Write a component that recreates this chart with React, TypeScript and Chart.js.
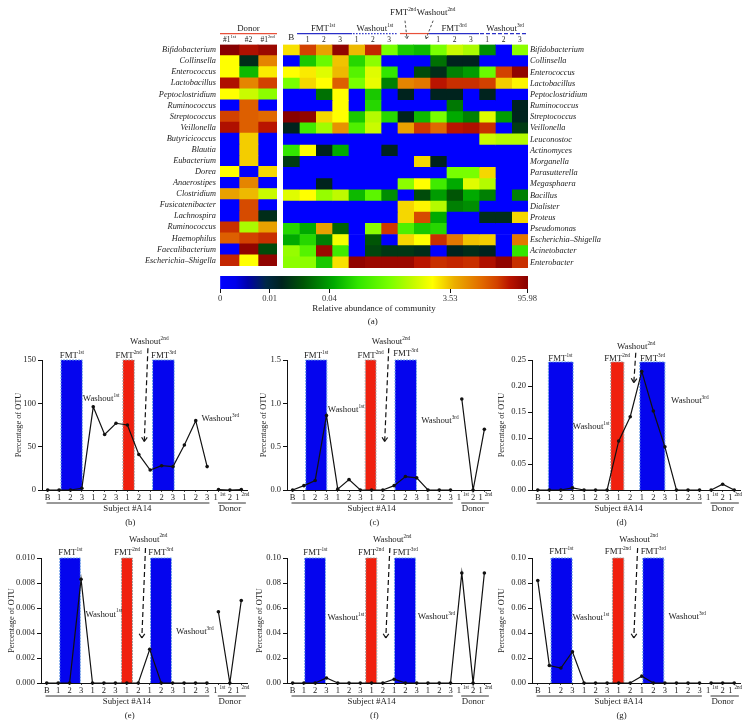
import React, { useEffect, useRef } from "react";
import { Chart, registerables } from "chart.js";

Chart.register(...registerables);

const SERIF = '"Liberation Serif", serif';

// ---------- heat map data (levels: position on the colour ramp, 0-100) ----------
const donorRowLabels = ["Bifidobacterium","Collinsella","Enterococcus","Lactobacillus","Peptoclostridium","Ruminococcus","Streptococcus","Veillonella","Butyricicoccus","Blautia","Eubacterium","Dorea","Anaerostipes","Clostridium","Fusicatenibacter","Lachnospira","Ruminococcus","Haemophilus","Faecalibacterium","Escherichia–Shigella"];
const subjectRowLabels = ["Bifidobacterium","Collinsella","Enterococcus","Lactobacillus","Peptoclostridium","Ruminococcus","Streptococcus","Veillonella","Leuconostoc","Actinomyces","Morganella","Parasutterella","Megasphaera","Bacillus","Dialister","Proteus","Pseudomonas","Escherichia–Shigella","Acinetobacter","Enterobacter"];
const donorColumns: [string, string][] = [["#1", "1st"], ["#2", ""], ["#1", "2nd"]];
const subjectColumns = ["B","1","2","3","1","2","3","","","1","2","3","1","2","3"];

const donorLevels = [
  [100,96,98],[73,22,84],[73,44,75],[96,84,90],[73,68,62],[0,87,0],[90,87,86],[96,87,95],[0,78,0],[0,78,0],
  [0,78,0],[73,0,77],[0,84,0],[82,80,68],[0,89,0],[0,89,22],[92,65,82],[87,90,92],[0,99,28],[93,73,99],
];
const subjectLevels = [
  [76,90,82,99,80,93,60,46,44,60,68,65,38,0,62],
  [0,46,58,79,48,62,0,0,0,34,20,20,0,0,0],
  [73,75,70,80,55,70,50,0,28,22,36,40,58,90,99],
  [60,77,73,87,60,71,36,84,85,95,92,92,90,78,74],
  [0,0,34,73,0,46,0,20,0,20,20,0,20,0,0],
  [0,0,0,73,0,48,0,0,0,0,35,0,0,0,20],
  [100,99,77,73,46,66,48,20,44,60,42,36,70,40,20],
  [20,52,64,83,54,68,0,82,91,86,95,96,92,0,25],
  [0,0,0,0,0,0,0,0,0,0,0,0,68,66,66],
  [50,73,20,42,0,0,20,0,0,0,0,0,0,0,0],
  [25,0,0,0,0,0,0,0,77,20,0,0,0,0,0],
  [0,0,0,0,0,0,0,0,0,0,60,60,77,0,0],
  [0,0,20,0,0,0,0,62,73,52,42,70,66,0,0],
  [70,73,63,67,44,56,38,0,28,40,30,42,36,0,36],
  [0,0,0,0,0,0,0,77,74,66,36,38,0,0,0],
  [0,0,0,0,0,0,0,77,89,42,0,0,22,22,77],
  [48,42,82,32,0,62,91,54,46,48,0,0,0,0,0],
  [42,48,36,72,0,30,0,77,73,92,85,79,78,0,85],
  [63,55,98,52,0,27,24,24,22,0,20,22,20,0,50],
  [62,62,46,76,99,98,98,98,95,92,93,92,96,99,92],
];

// ---------- colour ramp ----------
const rampLevels = [0,5,10,15,20,30,42,50,60,67,73,77,81,86,90,95,100];
const rampBarPos = [0,5,9,15,20,27,37,45,55,62,69,72.5,76,85,90,94,100];
const rampColors = [[0,0,255],[0,0,235],[0,0,170],[0,40,70],[0,35,30],[0,85,5],[0,170,0],[50,230,0],[120,255,0],[190,250,0],[255,255,0],[245,215,0],[235,175,0],[225,105,0],[210,65,0],[185,20,0],[135,0,0]];
const colorbarTickLevels = [0,16.1,35.5,74.7,99.8];
const colorbarTickLabels = ["0","0.01","0.04","3.53","95.98"];

function levelColor(v: number): string {
  let i = 0;
  while (i < rampLevels.length - 2 && v > rampLevels[i + 1]) i++;
  const t = (v - rampLevels[i]) / (rampLevels[i + 1] - rampLevels[i]);
  const c = rampColors[i].map((a, k) => Math.round(a + (rampColors[i + 1][k] - a) * t));
  return `rgb(${c[0]},${c[1]},${c[2]})`;
}

// ---------- line panels data ----------
const timeTickLabels = ["B","1","2","3","1","2","3","1","2","1","2","3","1","2","3","","2",""];
const otuB = [0,0,0,2,96,64,77,75,41,23,28,27,52,80,27,0.5,0,0.5];
const otuC = [0,0.05,0.11,0.86,0.01,0.12,0,0,0,0.05,0.155,0.14,0,0,0,1.05,0,0.7];
const otuD = [0,0,0,0.004,0,0,0,0.094,0.141,0.228,0.152,0.083,0,0,0,0,0.011,0];
const otuE = [0,0,0,0.0083,0,0,0,0,0,0.0027,0,0,0,0,0,0.0057,0,0.0066];
const otuF = [0,0,0,0.004,0,0,0,0,0,0.003,0,0,0,0,0,0.088,0,0.088];
const otuG = [0.082,0.014,0.012,0.025,0,0,0,0,0,0.0055,0,0,0,0,0,0,0,0];

type Label = [string, string, number, number];
type Panel = {
  letter: string; values: number[]; max: number; step: number; decimals: number; connect: boolean;
  left: number; right: number; top: number; bottom: number; titleGap: number;
  bands: number[][]; bandTop: number; labels: Label[]; arrow: number[];
};

const panels: Panel[] = [
  { letter:"(b)", values:otuB, max:150, step:50, decimals:0, connect:false, left:41.7, right:246.7, top:360, bottom:490.3, titleGap:22,
    bands:[[1.17,3.04],[6.61,7.6],[9.21,11.11]], bandTop:1,
    labels:[["FMT","1st",2.13,1.036],["FMT","2nd",7.1,1.036],["FMT","3rd",10.18,1.036],["Washout","1st",4.7,0.7],["Washout","2nd",8.92,1.14],["Washout","3rd",15.15,0.545]],
    arrow:[8.8,1.09,8.48,0.373] },
  { letter:"(c)", values:otuC, max:1.5, step:0.5, decimals:1, connect:false, left:286.7, right:490, top:360, bottom:490.3, titleGap:22,
    bands:[[1.16,3.03],[6.44,7.39],[9.08,10.98]], bandTop:1,
    labels:[["FMT","1st",2.08,1.036],["FMT","2nd",6.91,1.036],["FMT","3rd",10.03,1.05],["Washout","1st",4.75,0.616],["Washout","2nd",8.72,1.14],["Washout","3rd",13.06,0.535]],
    arrow:[8.52,1.09,8.16,0.373] },
  { letter:"(d)", values:otuD, max:0.25, step:0.05, decimals:2, connect:false, left:531.7, right:740, top:360, bottom:490.3, titleGap:29,
    bands:[[0.92,3.06],[6.32,7.45],[8.83,11]], bandTop:0.985,
    labels:[["FMT","1st",1.96,1.01],["FMT","2nd",6.87,1.01],["FMT","3rd",9.93,1.01],["Washout","1st",4.62,0.486],["Washout","2nd",8.51,1.1],["Washout","3rd",13.16,0.685]],
    arrow:[8.48,1.056,8.31,0.826] },
  { letter:"(e)", values:otuE, max:0.01, step:0.002, decimals:3, connect:false, left:41, right:247, top:558.3, bottom:683.3, titleGap:28,
    bands:[[1.14,2.94],[6.53,7.49],[9.07,10.9]], bandTop:1,
    labels:[["FMT","1st",2.07,1.045],["FMT","2nd",7.03,1.045],["FMT","3rd",9.97,1.045],["Washout","1st",4.99,0.55],["Washout","2nd",8.86,1.15],["Washout","3rd",12.94,0.408]],
    arrow:[8.63,1.08,8.31,0.36] },
  { letter:"(f)", values:otuF, max:0.1, step:0.02, decimals:2, connect:true, left:286.7, right:490, top:558.3, bottom:683.3, titleGap:26,
    bands:[[1.07,2.91],[6.48,7.46],[9.03,10.9]], bandTop:1,
    labels:[["FMT","1st",2.02,1.045],["FMT","2nd",6.95,1.045],["FMT","3rd",9.99,1.045],["Washout","1st",4.72,0.525],["Washout","2nd",8.83,1.147],["Washout","3rd",12.75,0.53]],
    arrow:[8.62,1.08,8.26,0.36] },
  { letter:"(g)", values:otuG, max:0.1, step:0.02, decimals:2, connect:false, left:531.7, right:740, top:558.3, bottom:683.3, titleGap:29,
    bands:[[1.15,2.97],[6.46,7.45],[9.09,10.91]], bandTop:1,
    labels:[["FMT","1st",2.05,1.05],["FMT","2nd",6.93,1.05],["FMT","3rd",9.99,1.05],["Washout","1st",4.59,0.525],["Washout","2nd",8.72,1.15],["Washout","3rd",12.93,0.53]],
    arrow:[8.64,1.08,8.31,0.36] },
];

// ---------- drawing helpers ----------
function supText(ctx: any, text: string, sup: string, cx: number, cy: number, size = 9, color = "#222", gap = 0) {
  ctx.save();
  ctx.fillStyle = color;
  ctx.textBaseline = "middle";
  ctx.textAlign = "left";
  ctx.font = `${size}px ${SERIF}`;
  const w = ctx.measureText(text).width + gap;
  ctx.font = `${size * 0.6}px ${SERIF}`;
  const s = sup ? ctx.measureText(sup).width : 0;
  const x = cx - (w + s) / 2;
  ctx.font = `${size}px ${SERIF}`;
  ctx.fillText(text, x, cy);
  if (sup) {
    ctx.font = `${size * 0.6}px ${SERIF}`;
    ctx.fillText(sup, x + w, cy - size * 0.36);
  }
  ctx.restore();
}

function seg(ctx: any, x0: number, y0: number, x1: number, y1: number, color: string, width = 1, dash: number[] = []) {
  ctx.save();
  ctx.strokeStyle = color;
  ctx.lineWidth = width;
  ctx.setLineDash(dash);
  ctx.beginPath();
  ctx.moveTo(x0, y0);
  ctx.lineTo(x1, y1);
  ctx.stroke();
  ctx.restore();
}

function arrow(ctx: any, x0: number, y0: number, x1: number, y1: number, color: string, width: number, dash: number[], head: number) {
  seg(ctx, x0, y0, x1, y1, color, width, dash);
  const a = Math.atan2(y1 - y0, x1 - x0);
  for (const d of [2.55, -2.55]) {
    seg(ctx, x1, y1, x1 + Math.cos(a + d) * head, y1 + Math.sin(a + d) * head, color, width);
  }
}

function ChartCanvas({ box, make }: { box: number[]; make: () => any }) {
  const ref = useRef<HTMLCanvasElement>(null);
  useEffect(() => {
    const chart = new Chart(ref.current as HTMLCanvasElement, make());
    return () => chart.destroy();
  }, []);
  return (
    <canvas
      ref={ref}
      width={box[2]}
      height={box[3]}
      style={{ position: "absolute", left: box[0], top: box[1], width: box[2], height: box[3], display: "block" }}
    />
  );
}

const baseOptions = {
  responsive: false,
  maintainAspectRatio: false,
  animation: false,
  events: [] as string[],
};
const noPlugins = { legend: { display: false }, tooltip: { enabled: false } };

// ---------- heat maps ----------
function heatDatasets(levels: number[][]) {
  return levels[0].map((_, c) => ({
    data: levels.map(() => [c, c + 1]),
    backgroundColor: levels.map((row) => levelColor(row[c])),
    borderWidth: 0,
    barPercentage: 1,
    categoryPercentage: 1,
    grouped: false,
  }));
}

const rowFont = { family: SERIF, size: 8.3, style: "italic" as const };

function donorConfig(w: number, plotLeft: number, plotRight: number, top: number, bottom: number, h: number) {
  return {
    type: "bar",
    data: { labels: donorRowLabels, datasets: heatDatasets(donorLevels) },
    options: {
      ...baseOptions,
      indexAxis: "y",
      layout: { padding: { top, right: w - plotRight, bottom: h - bottom, left: 0 } },
      plugins: noPlugins,
      scales: {
        x: { display: false, min: 0, max: 3 },
        y: {
          type: "category",
          offset: true,
          grid: { display: false, drawTicks: false },
          border: { display: false },
          ticks: { autoSkip: false, padding: 4, color: "#222", font: rowFont },
          afterFit: (s: any) => { s.width = plotLeft; },
        },
      },
    },
    plugins: [{
      id: "donorHeader",
      afterDraw(chart: any) {
        const { ctx, scales: { x, y } } = chart;
        supText(ctx, "Donor", "", x.getPixelForValue(1.5), y.getPixelForValue(-1.92), 8.8);
        seg(ctx, x.getPixelForValue(0), y.getPixelForValue(-1.48), x.getPixelForValue(3), y.getPixelForValue(-1.48), "#e8503a", 1.2);
        donorColumns.forEach((c, i) => supText(ctx, c[0], c[1], x.getPixelForValue(i + 0.5), y.getPixelForValue(-0.94), 7.5));
      },
    }],
  };
}

function subjectConfig(w: number, plotLeft: number, plotRight: number, top: number, bottom: number, h: number) {
  return {
    type: "bar",
    data: { labels: subjectRowLabels, datasets: heatDatasets(subjectLevels) },
    options: {
      ...baseOptions,
      indexAxis: "y",
      layout: { padding: { top, left: plotLeft, bottom: h - bottom, right: 0 } },
      plugins: noPlugins,
      scales: {
        x: { display: false, min: 0, max: 15 },
        y: { type: "category", display: false, offset: true },
        yRight: {
          axis: "y",
          type: "category",
          position: "right",
          labels: subjectRowLabels,
          offset: true,
          grid: { display: false, drawTicks: false },
          border: { display: false },
          ticks: { autoSkip: false, padding: 2, color: "#222", font: rowFont },
          afterFit: (s: any) => { s.width = w - plotRight; },
        },
      },
    },
    plugins: [{
      id: "subjectHeader",
      afterDraw(chart: any) {
        const { ctx, scales: { x, y } } = chart;
        const X = (v: number) => x.getPixelForValue(v);
        const Y = (v: number) => y.getPixelForValue(v);
        subjectColumns.forEach((c, i) => {
          if (c) supText(ctx, c, "", X(i + 0.5), Y(i === 0 ? -1.12 : -0.94), i === 0 ? 9 : 7.5);
        });
        const blue = "#2a2fc8";
        supText(ctx, "FMT", "1st", X(2.45), Y(-1.92), 8.8);
        seg(ctx, X(0.86), Y(-1.48), X(4.23), Y(-1.48), blue, 1.2);
        supText(ctx, "Washout", "1st", X(5.63), Y(-1.92), 8.8);
        seg(ctx, X(4.29), Y(-1.48), X(7.04), Y(-1.48), blue, 1.2, [1.5, 1.5]);
        seg(ctx, X(7.16), Y(-1.48), X(8.94), Y(-1.48), "#e8503a", 1.2);
        supText(ctx, "FMT", "3rd", X(10.47), Y(-1.92), 8.8);
        seg(ctx, X(8.94), Y(-1.48), X(12), Y(-1.48), blue, 1.2);
        supText(ctx, "Washout", "3rd", X(13.6), Y(-1.92), 8.8);
        seg(ctx, X(12.06), Y(-1.48), X(14.94), Y(-1.48), blue, 1.2, [4, 2]);
        supText(ctx, "FMT", "2nd", X(7.35), Y(-3.34), 8.8);
        supText(ctx, "Washout", "2nd", X(9.37), Y(-3.34), 8.8);
        arrow(ctx, X(7.47), Y(-2.63), X(7.59), Y(-1.03), "#222", 0.8, [2.5, 2], 3);
        arrow(ctx, X(9.19), Y(-2.63), X(8.76), Y(-1.03), "#222", 0.8, [2.5, 2], 3);
      },
    }],
  };
}

// ---------- colour bar ----------
function colorbarConfig(h: number, plotTop: number, plotBottom: number, left: number, right: number, axisHeight: number) {
  return {
    type: "bar",
    data: {
      labels: [""],
      datasets: [{
        data: [[0, 100]],
        borderWidth: 0,
        barPercentage: 1,
        categoryPercentage: 1,
        backgroundColor: (c: any) => {
          const area = c.chart.chartArea;
          if (!area) return "#00f";
          const g = c.chart.ctx.createLinearGradient(area.left, 0, area.right, 0);
          rampBarPos.forEach((p, i) => {
            const col = rampColors[i];
            g.addColorStop(p / 100, `rgb(${col[0]},${col[1]},${col[2]})`);
          });
          return g;
        },
      }],
    },
    options: {
      ...baseOptions,
      indexAxis: "y",
      layout: { padding: { top: plotTop, left, right, bottom: h - plotBottom - axisHeight } },
      plugins: noPlugins,
      scales: {
        y: { display: false },
        x: {
          min: 0,
          max: 100,
          afterBuildTicks: (s: any) => { s.ticks = colorbarTickLevels.map((value) => ({ value })); },
          grid: { drawOnChartArea: false, tickLength: 4, color: "#111", tickWidth: 1 },
          border: { display: false },
          ticks: {
            autoSkip: false,
            maxRotation: 0,
            padding: 1,
            color: "#333",
            font: { family: SERIF, size: 8.5 },
            callback: (v: number) => colorbarTickLabels[colorbarTickLevels.indexOf(v)],
          },
          title: { display: true, text: "Relative abundance of community", color: "#222", padding: { top: 1, bottom: 0 }, font: { family: SERIF, size: 9 } },
          afterFit: (s: any) => { s.height = axisHeight; },
        },
      },
    },
    plugins: [{
      id: "letterA",
      afterDraw(chart: any) {
        const { ctx, scales: { x } } = chart;
        supText(ctx, "(a)", "", x.getPixelForValue(49.6), chart.chartArea.bottom + 33, 9);
      },
    }],
  };
}

// ---------- line panels ----------
const MARGIN_TOP = 40;
const MARGIN_BOTTOM = 46;
const MARGIN_RIGHT = 6;

function panelBox(p: Panel) {
  const ml = p.titleGap + 6;
  return [p.left - ml, p.top - MARGIN_TOP, p.right - p.left + ml + MARGIN_RIGHT, p.bottom - p.top + MARGIN_TOP + MARGIN_BOTTOM];
}

function lineConfig(p: Panel) {
  const ml = p.titleGap + 6;
  const bandColors = ["#0505ee", "#f0200e", "#0505ee"];
  const edgeColors = ["#6b9fe6", "#a89a9a", "#6b9fe6"];
  const bandDatasets = p.bands.map((b, i) => ({
    type: "line",
    data: [
      { x: b[0], y: 0 },
      { x: b[0], y: p.max * p.bandTop },
      { x: b[1], y: p.max * p.bandTop },
      { x: b[1], y: 0 },
    ],
    fill: "origin",
    backgroundColor: bandColors[i],
    borderColor: edgeColors[i],
    borderWidth: 1,
    borderDash: [2, 1],
    pointRadius: 0,
    tension: 0,
    clip: false,
    order: 2,
  }));
  return {
    type: "line",
    data: {
      datasets: [
        {
          data: p.values.map((y, x) => ({ x, y })),
          borderColor: "#111",
          backgroundColor: "#111",
          borderWidth: 1.2,
          pointRadius: 1.8,
          pointBorderWidth: 0,
          tension: 0,
          clip: false,
          order: 1,
          segment: {
            borderColor: (c: any) => (c.p0DataIndex === 14 && !p.connect ? "transparent" : "#111"),
          },
        },
        ...bandDatasets,
      ],
    },
    options: {
      ...baseOptions,
      layout: { padding: { top: MARGIN_TOP, right: MARGIN_RIGHT, left: 0, bottom: 0 } },
      plugins: noPlugins,
      scales: {
        x: {
          type: "linear",
          min: -0.5,
          max: 17.5,
          afterBuildTicks: (s: any) => { s.ticks = timeTickLabels.map((_, value) => ({ value })); },
          grid: { drawOnChartArea: false, tickLength: 2, color: "#111", tickWidth: 0.8 },
          border: { color: "#111", width: 1 },
          ticks: {
            autoSkip: false,
            maxRotation: 0,
            padding: 1,
            color: "#222",
            font: { family: SERIF, size: 8.5 },
            callback: (v: number) => timeTickLabels[v],
          },
          afterFit: (s: any) => { s.height = MARGIN_BOTTOM; },
        },
        y: {
          min: 0,
          max: p.max,
          grid: { drawOnChartArea: false, tickLength: 4, color: "#111", tickWidth: 1 },
          border: { color: "#111", width: 1 },
          ticks: {
            stepSize: p.step,
            padding: 2,
            color: "#222",
            font: { family: SERIF, size: 8.5 },
            callback: (v: number) => Number(v).toFixed(p.decimals),
          },
          title: { display: true, text: "Percentage of OTU", color: "#222", padding: 0, font: { family: SERIF, size: 8.3 } },
          afterFit: (s: any) => { s.width = ml; },
        },
      },
    },
    plugins: [{
      id: "panelNotes",
      afterDraw(chart: any) {
        const { ctx, scales: { x, y } } = chart;
        const X = (v: number) => x.getPixelForValue(v);
        const Yf = (f: number) => y.getPixelForValue(f * p.max);
        const b = y.getPixelForValue(0);
        p.labels.forEach((l) => supText(ctx, l[0], l[1], X(l[2]), Yf(l[3]), 8.8));
        arrow(ctx, X(p.arrow[0]), Yf(p.arrow[1]), X(p.arrow[2]), Yf(p.arrow[3]), "#111", 1.2, [5, 3], 5);
        supText(ctx, "1", "1st", X(15) + 1, b + 8, 8.5, "#222", 2);
        supText(ctx, "1", "2nd", X(17) + 1, b + 8, 8.5, "#222", 2);
        seg(ctx, X(-0.1), b + 13, X(14.2), b + 13, "#333", 1);
        seg(ctx, X(14.95), b + 13, X(17.4), b + 13, "#333", 1);
        supText(ctx, "Subject #A14", "", X(7), b + 18.5, 8.8);
        supText(ctx, "Donor", "", X(16), b + 18.5, 8.8);
        supText(ctx, p.letter, "", X(7.25), b + 32.5, 8.8);
      },
    }],
  };
}

export default function App() {
  const heatTop = 44.5;
  const heatBottom = 269;
  const heatH = 275;
  return (
    <div style={{ position: "absolute", left: 0, top: 0, width: 748, height: 728, background: "#fff", overflow: "hidden" }}>
      <ChartCanvas box={[0, 0, 282, heatH]} make={() => donorConfig(282, 220, 277, heatTop, heatBottom, heatH)} />
      <ChartCanvas box={[280, 0, 468, heatH]} make={() => subjectConfig(468, 3, 248, heatTop, heatBottom, heatH)} />
      <ChartCanvas box={[190, 270, 370, 62]} make={() => colorbarConfig(62, 6, 19, 30, 32, 25)} />
      {panels.map((p) => (
        <ChartCanvas key={p.letter} box={panelBox(p)} make={() => lineConfig(p)} />
      ))}
    </div>
  );
}
